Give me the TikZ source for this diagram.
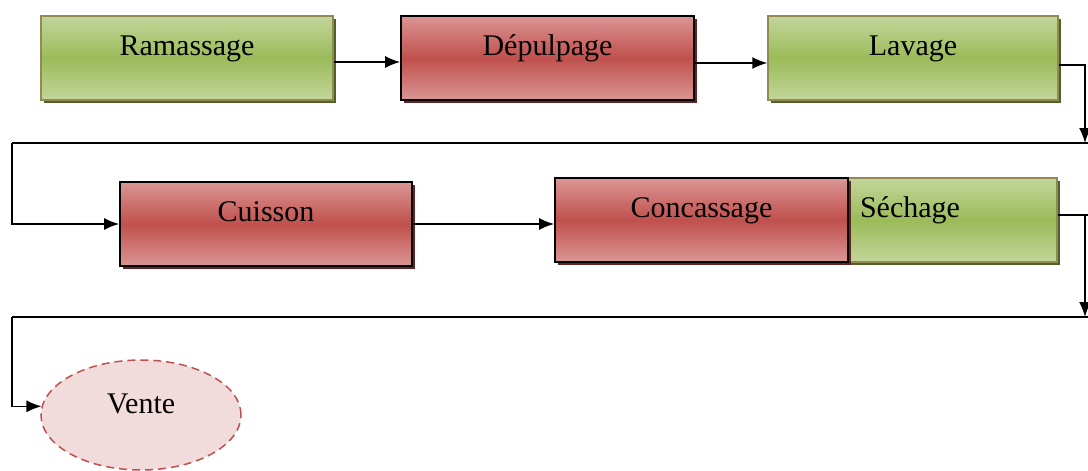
\documentclass[tikz,border=0pt]{standalone}
\usepackage{fontspec}
\setmainfont{Liberation Serif}
\usetikzlibrary{arrows.meta}
\usetikzlibrary{shapes.geometric, shadows}

\definecolor{grnlight}{HTML}{C3D69B}
\definecolor{grnmid}{HTML}{9BBB59}
\definecolor{grnline}{HTML}{938953}
\definecolor{grnshadow}{HTML}{4F6228}
\definecolor{redlight}{HTML}{DA9694}
\definecolor{redmid}{HTML}{C0504D}
\definecolor{redshadow}{HTML}{632523}
\definecolor{pinkfill}{HTML}{F2DCDB}

\tikzset{
  stepfont/.style={font=\fontsize{30}{35}\selectfont},
  greenbox/.style={stepfont,rectangle,draw=grnline,line width=1.5pt,
    top color=grnlight,bottom color=grnlight,middle color=grnmid,
    drop shadow={shadow xshift=3pt,shadow yshift=-3pt,fill=grnshadow,opacity=1},
    inner ysep=0pt,text height=39pt,text depth=45pt},
  redbox/.style={stepfont,rectangle,draw=black,line width=1.8pt,
    top color=redlight,bottom color=redlight,middle color=redmid,
    drop shadow={shadow xshift=3pt,shadow yshift=-3pt,fill=redshadow,opacity=1},
    inner ysep=0pt,text height=39pt,text depth=45pt},
  flow/.style={line width=1.5pt,-{Latex[length=15pt,width=12pt]}},
  link/.style={line width=1.5pt},
}

\begin{document}
\begin{tikzpicture}[x=1pt,y=-1pt,line join=miter]
\useasboundingbox (0,0) rectangle (1088,471);
%%
\node (node_ramassage) at (187,58) [greenbox,minimum width=292pt] {Ramassage};
\node (node_depulpage) at (547.5,58) [redbox,minimum width=293pt] {Dépulpage};
\node (node_lavage) at (913,58) [greenbox,minimum width=290pt] {Lavage};
\node (node_cuisson) at (266,224) [redbox,minimum width=292pt] {Cuisson};
\node (node_sechage) at (952.5,220) [greenbox,minimum width=209pt,text width=185pt,align=left] {Séchage};
\node (node_concassage) at (701.5,220) [redbox,minimum width=293pt] {Concassage};
\node (node_vente) at (141,415) [stepfont,ellipse,draw=redmid,fill=pinkfill,line width=1.5pt,
  dash pattern=on 8pt off 5pt,minimum width=200pt,minimum height=110pt,inner sep=0pt,
  text height=18pt,text depth=22pt] {Vente};
%
\coordinate (turn_1) at (1085,143);
\coordinate (edge_1) at (1088,143);
\coordinate (back_1) at (12,143);
\coordinate (turn_2) at (1085,317);
\coordinate (edge_2) at (1088,317);
\coordinate (back_2) at (12,317);
%
\draw [flow] ([yshift=-4pt]node_ramassage.east) -- ([yshift=-4pt]node_depulpage.west);
\draw [flow] ([yshift=-5pt]node_depulpage.east) -- ([yshift=-5pt]node_lavage.west);
\draw [flow] ([yshift=-7pt]node_lavage.east) -| (turn_1);
\draw [link] (edge_1) -- (back_1);
\draw [flow] (back_1) |- (node_cuisson.west);
\draw [flow] (node_cuisson.east) -- (node_cuisson.east -| node_concassage.west);
\draw [link] ([yshift=5pt]node_sechage.east) -- ([yshift=5pt]node_sechage.east -| edge_2);
\draw [flow] ([yshift=5pt]node_sechage.east -| turn_2) -- (turn_2);
\draw [link] (edge_2) -- (back_2);
\draw [flow] (back_2) |- (node_vente.175);
%
\end{tikzpicture}
\end{document}
